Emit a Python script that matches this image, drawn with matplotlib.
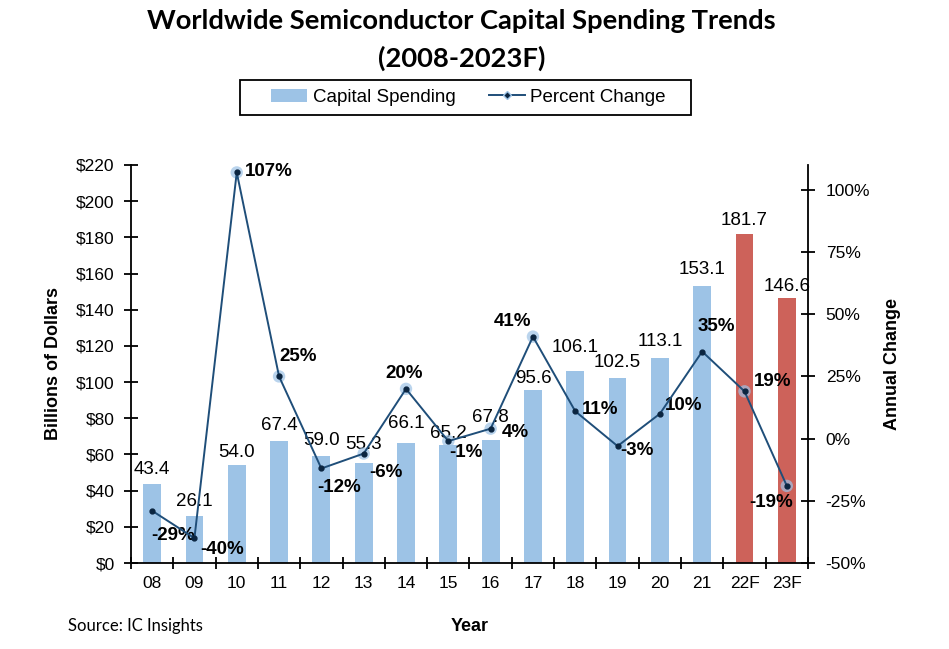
"""Worldwide semiconductor capital spending chart."""
import matplotlib
matplotlib.use("Agg")
import matplotlib.pyplot as plt
from matplotlib.lines import Line2D
from matplotlib.patches import Patch, Rectangle
import numpy as np

years = ["08", "09", "10", "11", "12", "13", "14", "15", "16", "17",
         "18", "19", "20", "21", "22F", "23F"]
spending = [43.4, 26.1, 54.0, 67.4, 59.0, 55.3, 66.1, 65.2, 67.8, 95.6,
            106.1, 102.5, 113.1, 153.1, 181.7, 146.6]
pct_change = [-29, -40, 107, 25, -12, -6, 20, -1, 4, 41, 11, -3, 10, 35, 19, -19]
forecast = [False] * 14 + [True, True]

# label placement (points): percent labels (dx, dy), bar labels gap above bar
pct_offsets = [(15, -18), (20, -8), (23, 1), (14, 14), (13, -14), (16, -14),
               (-1, 11), (13, -8), (18, -3), (-15, 11), (18, 1), (14, -3),
               (17, 6), (10, 18), (20, 7), (-11, -12)]
bar_gaps = [5, 4, 3, 5, 5, 7, 8, 2, 10, 2, 11, 5, 6, 6, 4, 2]

blue = "#9dc3e6"
red = "#cd625a"
line_col = "#1f4e79"
SANS = "Liberation Sans"
TITLE = "Lato"

plt.rcParams["font.family"] = [SANS, "DejaVu Sans"]

fig = plt.figure(figsize=(9.49, 6.49), dpi=100)
ax = fig.add_axes([0.138, 0.1325, 0.7134, 0.6133])
x = np.arange(len(years))
colors = [red if f else blue for f in forecast]
ax.bar(x, spending, width=0.42, color=colors, zorder=1)
for xi, v, g in zip(x, spending, bar_gaps):
    ax.annotate(f"{v:.1f}", (xi, v), xytext=(0, g), textcoords="offset points",
                ha="center", va="bottom", fontsize=13.5, family=SANS)

ax.set_xlim(-0.5, len(years) - 0.5)
ax.set_ylim(0, 220)
ax.set_yticks(np.arange(0, 221, 20))
ax.set_yticklabels([f"${v}" for v in range(0, 221, 20)], fontsize=12.5, family=SANS)
ax.set_xticks(np.arange(-0.5, len(years), 1))
ax.set_xticklabels([])
ax.set_xticks(x, minor=True)
ax.set_xticklabels(years, minor=True, fontsize=12.5, family=SANS)
ax.tick_params(axis="x", which="major", direction="inout", length=9, width=1.3)
ax.tick_params(axis="x", which="minor", length=0, pad=9)
ax.tick_params(axis="y", direction="inout", length=9.5, width=1.3, pad=7)
ax.spines["top"].set_visible(False)
ax.spines["right"].set_visible(False)
ax.spines["left"].set_linewidth(1.3)
ax.spines["bottom"].set_linewidth(1.3)
ax.set_ylabel("Billions of Dollars", fontsize=13, fontweight="bold", labelpad=10,
              family=SANS)
ax.set_xlabel("Year", fontsize=13, fontweight="bold", labelpad=20, family=SANS)

ax2 = ax.twinx()
ax2.set_ylim(-50, 110)
ax2.set_yticks(np.arange(-50, 101, 25))
ax2.set_yticklabels([f"{v}%" for v in range(-50, 101, 25)], fontsize=12.5, family=SANS)
ax2.tick_params(axis="y", direction="inout", length=9.5, width=1.3, pad=8)
ax2.spines["top"].set_visible(False)
ax2.spines["left"].set_visible(False)
ax2.spines["bottom"].set_visible(False)
ax2.spines["right"].set_linewidth(1.3)
ax2.set_ylabel("Annual Change", fontsize=13, fontweight="bold", labelpad=10, family=SANS)

ax2.scatter(x, pct_change, s=80, color=blue, alpha=0.7, edgecolors="none", zorder=3)
ax2.plot(x, pct_change, color=line_col, lw=1.4, marker="o", markersize=3.5,
         markerfacecolor="#0b2540", markeredgecolor="#0b2540", zorder=4)
for xi, v, (dx, dy) in zip(x, pct_change, pct_offsets):
    ax2.annotate(f"{v}%", (xi, v), xytext=(dx, dy), textcoords="offset points",
                 ha="center", va="center", fontsize=13.5, fontweight="bold",
                 family=SANS)

fig.text(0.486, 0.939, "Worldwide Semiconductor Capital Spending Trends\n(2008-2023F)",
         ha="center", va="center", fontsize=19.7, fontweight="bold",
         family=TITLE, linespacing=1.6)

handles = [Patch(facecolor=blue, edgecolor="none", label="Capital Spending"),
           Line2D([0], [0], color=line_col, lw=1.4, marker="D", markersize=4,
                  markerfacecolor="#0b2540", markeredgecolor=blue,
                  label="Percent Change")]
fig.legend(handles=handles, loc="center", bbox_to_anchor=(0.4937, 0.8498),
           ncol=2, frameon=False, prop={"family": SANS, "size": 13.5},
           handlelength=1.9, handleheight=0.7, handletextpad=0.3,
           columnspacing=1.8, borderpad=0, borderaxespad=0)
fig.patches.append(Rectangle((0.2529, 0.8228), 0.4752, 0.0539,
                             transform=fig.transFigure, fill=False,
                             edgecolor="black", linewidth=1.3))

fig.text(0.072, 0.036, "Source: IC Insights", fontsize=12, family=TITLE, va="center")

fig.savefig("out.png", dpi=100)
